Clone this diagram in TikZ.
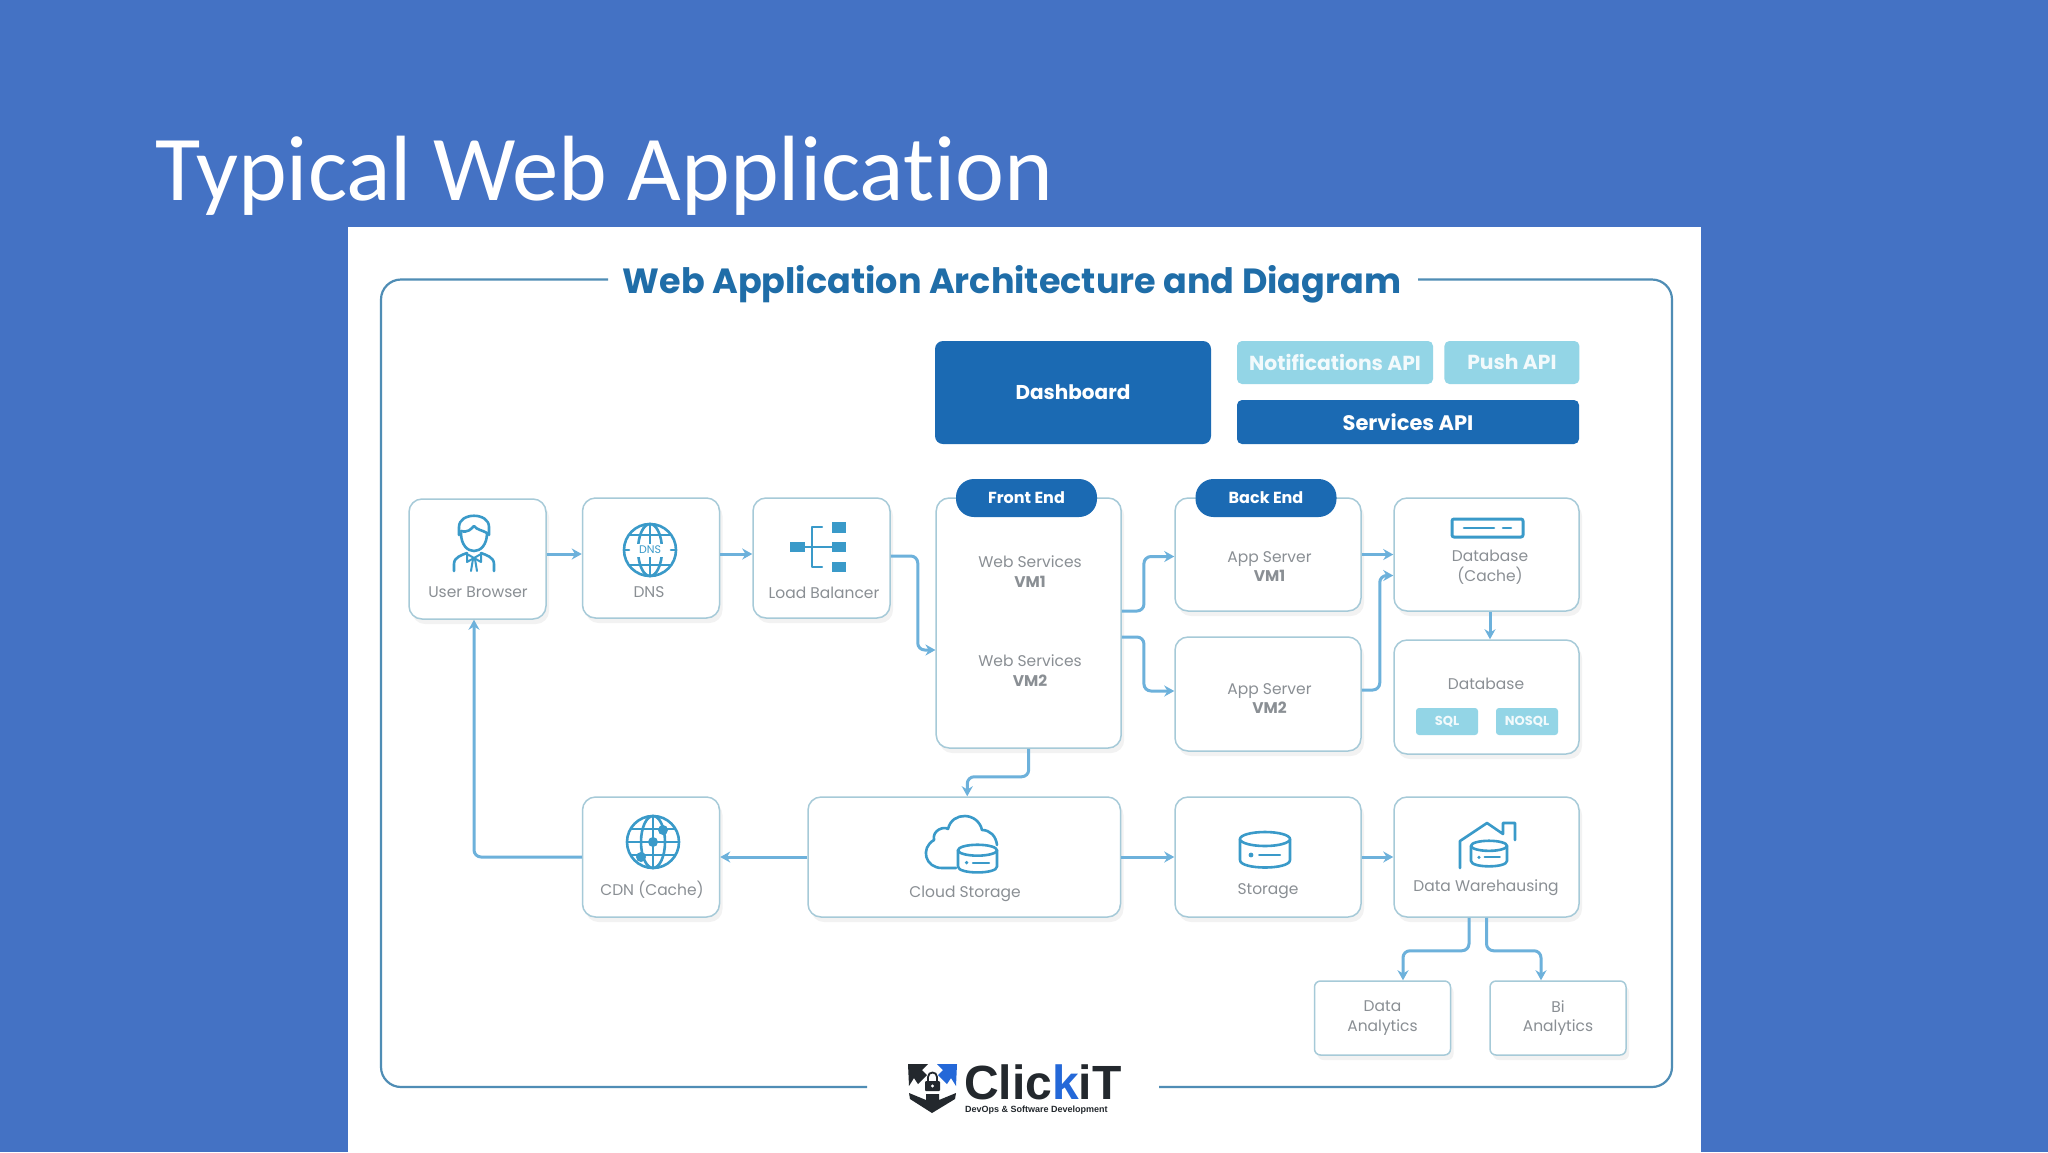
\documentclass[tikz,border=0pt]{standalone}
\usepackage{fontspec}
\usepackage{xcolor}
\setmainfont{Poppins}
\newfontfamily\slidefont[Ligatures=NoCommon]{Carlito}
\newfontfamily\logofont{Liberation Sans}
\usetikzlibrary{positioning, arrows.meta, shadows}
\definecolor{slideblue}{HTML}{4472C4}
\definecolor{darkbtn}{HTML}{1B6AB3}
\definecolor{headblue}{HTML}{1F6DA8}
\definecolor{lightbtn}{HTML}{93D5E6}
\definecolor{boxline}{HTML}{A6CAD8}
\definecolor{connline}{HTML}{6DB1DB}
\definecolor{iconblue}{HTML}{3A9AC9}
\definecolor{framecol}{HTML}{4F8DB5}
\definecolor{labelgrey}{HTML}{8A8F94}
\definecolor{logodark}{HTML}{23282D}
\definecolor{logoblue}{HTML}{2468D8}
\tikzset{
  box/.style={rectangle, draw=boxline, line width=1.5pt, fill=white, rounded corners=13pt, minimum width=186pt, minimum height=114pt, inner sep=0pt, drop shadow={opacity=0.10, shadow xshift=3pt, shadow yshift=-5pt}},
  flat/.style={box, rounded corners=6pt, minimum width=136pt, minimum height=74pt},
  btn/.style={rectangle, fill=darkbtn, text=white, rounded corners=8pt, inner sep=0pt, font=\fontsize{20}{24}\selectfont\bfseries},
  lightb/.style={btn, fill=lightbtn, text=white!88!lightbtn, rounded corners=5pt, font=\fontsize{20.3}{25}\selectfont\bfseries},
  pill/.style={rectangle, fill=darkbtn, text=white, rounded corners=18pt, minimum width=141pt, minimum height=38pt, inner sep=0pt, font=\fontsize{16}{20}\selectfont\bfseries},
  tag/.style={rectangle, fill=lightbtn, text=white!88!lightbtn, rounded corners=3pt, minimum width=62pt, minimum height=27pt, inner sep=0pt, font=\fontsize{13}{16}\selectfont\bfseries},
  lbl/.style={text=labelgrey, align=center, inner sep=0pt, font=\fontsize{15.5}{19.6}\selectfont},
  conn/.style={draw=connline, line width=3pt, rounded corners=7pt, -{Stealth[length=10pt,width=11pt]}},
  icon/.style={draw=iconblue, line width=2.6pt, line cap=round, line join=round},
  framing/.style={draw=framecol, line width=2.2pt, rounded corners=20pt},
  dbicon/.pic={
    \draw[icon, fill=white] (-25,-10) -- (-25,11) .. controls (-25,21) and (25,21) .. (25,11) -- (25,-10) -- cycle;
    \draw[icon, fill=white] (0,-10) ellipse (25 and 7);
    \fill[iconblue] (-14,6) circle (2.4);
    \draw[icon, line width=2pt] (-6,6) -- (15,6);
  },
}
\begin{document}
\begin{tikzpicture}[x=1pt, y=-1pt, >=Stealth]
  \useasboundingbox (0,0) rectangle (2048,1152);
  \fill[slideblue] (0,0) rectangle (2048,1152);
  \fill[white] (347.5,227) rectangle (1700.5,1152);
  \node[anchor=base west, inner sep=0pt, text=white, font=\fontsize{92.7}{100}\selectfont\slidefont] (slidetitle) at (155,200) {Typical Web Application};

  % outer frame and heading
  \draw[framing] (608,279.5) -- (381,279.5) -- (381,1087) -- (867,1087);
  \draw[framing] (1418,279.5) -- (1672,279.5) -- (1672,1087) -- (1159,1087);
  \node[text=headblue, inner sep=0pt, font=\fontsize{35}{42}\selectfont\bfseries] (heading) at (1012,284) {Web Application Architecture and Diagram};

  % top buttons
  \node[btn, minimum width=276pt, minimum height=103pt] (dashboard) at (1073,392.5) {Dashboard};
  \node[lightb, minimum width=196pt, minimum height=43pt] (notifapi) at (1335,362.5) {Notifications API};
  \node[lightb, minimum width=135pt, minimum height=43pt, right=11pt of notifapi] (pushapi) {Push API};
  \node[btn, font=\fontsize{21}{25}\selectfont\bfseries, rounded corners=5pt, minimum width=342pt, minimum height=44pt] (servapi) at (1408,422) {Services API};

  % first row
  \node[box, minimum width=137pt, minimum height=120pt] (browser) at (477.5,559) {};
  \node[box, minimum width=137pt, minimum height=120pt] (dns) at (651,558) {};
  \node[box, minimum width=137pt, minimum height=120pt, right=32pt of dns] (balancer) {};
  \node[box, minimum width=185pt, minimum height=250pt] (webserv) at (1028.7,623) {};
  \node[box, minimum height=113pt] (appone) at (1268,554.5) {};
  \node[box] (apptwo) at (1268,694) {};
  \node[box, minimum width=185pt, minimum height=113pt, right=31.5pt of appone] (cache) {};
  \node[box, minimum width=185pt] (database) at (1486.5,697) {};
  \node[pill] (frontend) at (1026.5,498) {Front End};
  \node[pill] (backend) at (1266,498) {Back End};

  % second row
  \node[box, minimum width=137pt, minimum height=120pt] (cdn) at (651,857) {};
  \node[box, minimum width=312.5pt, minimum height=120pt, right=87pt of cdn] (cloud) {};
  \node[box, minimum width=186pt, minimum height=120pt, right=53pt of cloud] (storage) {};
  \node[box, minimum width=185pt, minimum height=120pt, right=31.5pt of storage] (warehouse) {};
  \node[flat, lbl] (dataan) at (1382.5,1018) {Data\\Analytics};
  \node[flat, lbl] (bian) at (1558,1018) {Bi\\Analytics};

  % texts inside the boxes
  \node[lbl] (browserlbl) at (478,592.5) {User Browser};
  \node[lbl] (dnslbl) at (649,592.5) {DNS};
  \node[lbl] (balancerlbl) at (824,592.5) {Load Balancer};
  \node[lbl] (vmone) at (1030,571.5) {Web Services\\\textbf{VM1}};
  \node[lbl] (vmtwo) at (1030,670.5) {Web Services\\\textbf{VM2}};
  \node[lbl] (apponelbl) at (1269.5,566.5) {App Server\\\textbf{VM1}};
  \node[lbl] (apptwolbl) at (1269.5,698.5) {App Server\\\textbf{VM2}};
  \node[lbl] (cachelbl) at (1490,567) {Database\\(Cache)};
  \node[lbl] (databaselbl) at (1486,684) {Database};
  \node[tag] (sqltag) at (1447,721.5) {SQL};
  \node[tag] (nosqltag) at (1527,721.5) {NOSQL};
  \node[lbl] (cdnlbl) at (652,890) {CDN (Cache)};
  \node[lbl] (cloudlbl) at (965,894) {Cloud Storage};
  \node[lbl] (storagelbl) at (1268,891) {Storage};
  \node[lbl] (warehouselbl) at (1486,888) {Data Warehausing};

  % connectors
  \draw[conn] ([yshift=5pt]browser.east) -- ([yshift=4pt]dns.west);
  \draw[conn] ([yshift=4pt]dns.east) -- ([yshift=4pt]balancer.west);
  \draw[conn] ([yshift=2pt]balancer.east) -- ++(27,0) |- ([yshift=-27pt]webserv.west);
  \draw[conn] ([yshift=12pt]webserv.east) -- ++(22,0) |- ([yshift=-2pt]appone.west);
  \draw[conn] ([yshift=-14pt]webserv.east) -- ++(22,0) |- ([yshift=3pt]apptwo.west);
  \draw[conn] (appone.east) -- (cache.west);
  \draw[conn] ([yshift=4pt]apptwo.east) -- ++(18,0) |- ([yshift=-21pt]cache.west);
  \draw[conn] ([xshift=3.5pt]cache.south) -- ([xshift=3.5pt]database.north);
  \draw[conn] (webserv.south) -- ++(0,28) -| ([xshift=3pt]cloud.north);
  \draw[conn] (cloud.west) -- (cdn.east);
  \draw[conn] (cdn.west) -| ([xshift=-3.5pt]browser.south);
  \draw[conn] (cloud.east) -- (storage.west);
  \draw[conn] (storage.east) -- (warehouse.west);
  \draw[conn] ([xshift=-17.5pt]warehouse.south) -- ++(0,33) -| ([xshift=20.5pt]dataan.north);
  \draw[conn] (warehouse.south) -- ++(0,33) -| ([xshift=-17pt]bian.north);

  % user icon
  \begin{scope}[shift={(474,543)}]
    \draw[icon] (-15,-8) -- (-15,-16) .. controls (-15,-31) and (15,-31) .. (15,-16) -- (15,-8);
    \draw[icon] (-13,-10) .. controls (-13,14) and (13,14) .. (13,-10);
    \draw[icon] (-13,-12) .. controls (-6,-10) and (-3,-14) .. (0,-17) .. controls (3,-13) and (8,-13) .. (13,-10);
    \draw[icon] (-20,28) -- (-20,21) .. controls (-20,14) and (-12,12) .. (-7,10);
    \draw[icon] (20,28) -- (20,21) .. controls (20,14) and (12,12) .. (7,10);
    \draw[icon, line width=2pt] (0,15) -- (-7,11) -- (-7,19) -- cycle;
    \draw[icon, line width=2pt] (0,15) -- (7,11) -- (7,19) -- cycle;
    \draw[icon, line width=2pt] (-3,28) -- (-1,16) (3,28) -- (1,16);
  \end{scope}

  % dns icon
  \begin{scope}[shift={(650,550)}]
    \draw[icon] (0,0) circle (26);
    \draw[icon] (0,0) ellipse (12 and 26);
    \draw[icon] (0,-26) -- (0,26);
    \draw[icon] (-21,-15) -- (21,-15) (-21,15) -- (21,15);
    \draw[icon] (-26,0) -- (-21,0) (21,0) -- (26,0);
    \node[fill=white, text=iconblue, inner sep=1pt, minimum width=32pt, minimum height=13pt, font=\fontsize{11}{12}\selectfont] (dnsicon) at (0,0) {DNS};
  \end{scope}

  % balancer icon
  \fill[iconblue] (790,542) rectangle (805,552);
  \fill[iconblue] (832,522) rectangle (846,533);
  \fill[iconblue] (832,542) rectangle (846,552);
  \fill[iconblue] (832,562) rectangle (846,572);
  \draw[icon, line width=2pt] (822,527) -- (812,527) -- (812,567) -- (822,567);
  \draw[icon, line width=2pt] (805,547) -- (832,547);

  % cache icon
  \draw[icon, line width=3pt, rounded corners=2pt] (1452,519) rectangle (1523,537);
  \draw[icon] (1464,528) -- (1494,528) (1503,528) -- (1511,528);

  % cdn icon
  \begin{scope}[shift={(653,842)}]
    \draw[icon] (0,0) circle (26);
    \draw[icon] (0,0) ellipse (12 and 26);
    \draw[icon] (0,-26) -- (0,26);
    \draw[icon] (-26,0) -- (26,0) (-22,-13) -- (22,-13) (-22,13) -- (22,13);
    \fill[iconblue] (0,0) circle (5);
    \fill[iconblue] (10,-12) circle (5);
    \fill[iconblue] (-12,15) circle (5);
  \end{scope}

  % cloud icon
  \draw[icon] (956,868) -- (942,868) .. controls (925,868) and (920,848) .. (934,840) .. controls (932,830) and (944,826) .. (948,829) .. controls (952,811) and (978,812) .. (982,830) .. controls (990,830) and (996,836) .. (997,845);
  \pic[scale=0.78] at (977.5,858) {dbicon};

  % storage icon
  \pic at (1265,849) {dbicon};

  % warehouse icon
  \draw[icon] (1460,868) -- (1460,841) -- (1487,823) -- (1503,834) -- (1503,823) -- (1515,823) -- (1515,840);
  \pic[scale=0.72] at (1489,853) {dbicon};

  % logo
  \fill[logodark] (908,1064) -- (928,1064) -- (922,1070) -- (927,1075) -- (918,1084) -- (914,1078) -- (909,1086) -- cycle;
  \fill[logoblue] (957,1064) -- (937,1064) -- (943,1070) -- (938,1075) -- (947,1084) -- (951,1078) -- (956,1086) -- cycle;
  \fill[logodark] (909,1093) -- (926,1100) -- (926,1094) -- (939,1094) -- (939,1100) -- (956,1093) -- (955,1099) -- (932,1113) -- (910,1099) -- cycle;
  \fill[logodark, rounded corners=1pt] (925,1081) rectangle (940,1091);
  \draw[logodark, line width=1.8pt] (928,1081) -- (928,1077) .. controls (928,1071) and (937,1071) .. (937,1077) -- (937,1081);
  \fill[white] (932.5,1086) circle (1.6);
  \node[anchor=base west, inner sep=0pt, text=logodark, font=\fontsize{48}{50}\selectfont\logofont\bfseries] (clickit) at (964,1099) {Clic\textcolor{logoblue}{k}iT};
  \node[anchor=west, inner sep=0pt, text=logodark, font=\fontsize{9}{10}\selectfont\logofont\bfseries] (clickitsub) at (965,1110.5) {DevOps \& Software Development};
\end{tikzpicture}
\end{document}
